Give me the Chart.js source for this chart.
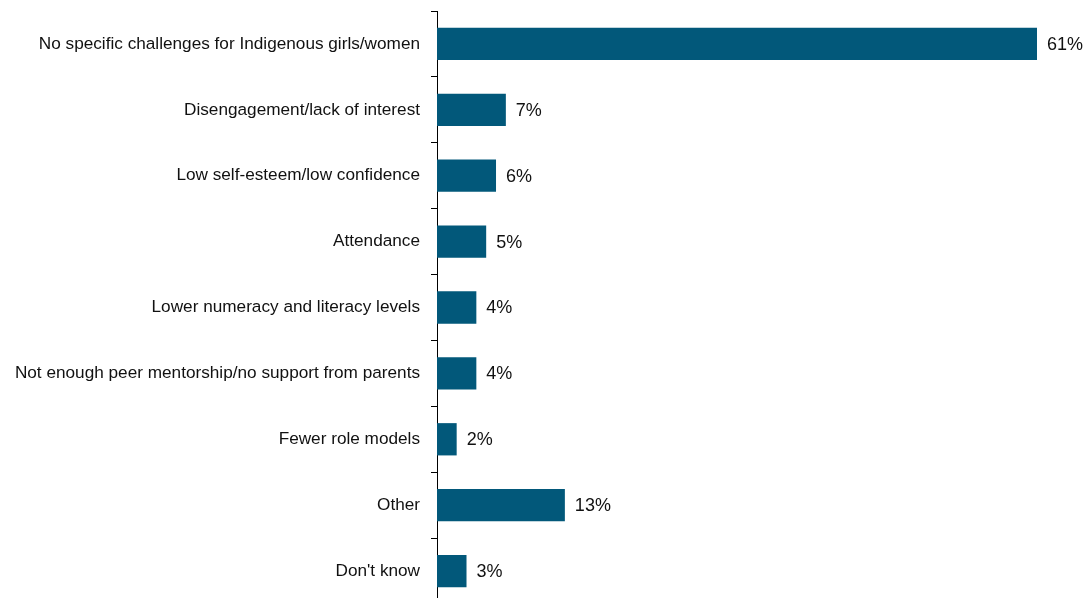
<!DOCTYPE html>
<html>
<head>
<meta charset="utf-8">
<script src="https://cdn.jsdelivr.net/npm/chart.js@4/dist/chart.umd.min.js"></script>
<style>
  body { margin: 0; background: #fff; overflow: hidden; }
  #wrap { width: 1088px; height: 598px; overflow: hidden; }
  #myBarChart { display: block; }
</style>
</head>
<body>
<div id="wrap"><canvas id="myBarChart" width="1088" height="604"></canvas></div>
<script>
var categories = [
  "No specific challenges for Indigenous girls/women",
  "Disengagement/lack of interest",
  "Low self-esteem/low confidence",
  "Attendance",
  "Lower numeracy and literacy levels",
  "Not enough peer mentorship/no support from parents",
  "Fewer role models",
  "Other",
  "Don't know"
];
var percents = [61, 7, 6, 5, 4, 4, 2, 13, 3];

// value labels to the right of each bar
var valueLabels = {
  id: 'valueLabels',
  afterDatasetsDraw: function(chart) {
    var ctx = chart.ctx;
    var meta = chart.getDatasetMeta(0);
    ctx.save();
    ctx.font = '18px "Liberation Sans", Arial, sans-serif';
    ctx.fillStyle = '#111';
    ctx.textAlign = 'left';
    ctx.textBaseline = 'middle';
    meta.data.forEach(function(bar, i) {
      ctx.fillText(percents[i] + '%', bar.x + 10, bar.y + 1);
    });
    ctx.restore();
  }
};

var ctx = document.getElementById('myBarChart');
var barChart = new Chart(ctx, {
  type: 'bar',
  data: {
    labels: categories,
    datasets: [{
      data: percents,
      backgroundColor: '#02587a',
      borderWidth: 0,
      categoryPercentage: 1,
      barPercentage: 0.49
    }]
  },
  options: {
    indexAxis: 'y',
    responsive: false,
    animation: false,
    layout: { padding: { top: 11, right: 51, bottom: 0, left: 0 } },
    plugins: {
      legend: { display: false },
      tooltip: { enabled: false }
    },
    scales: {
      x: {
        display: false,
        min: 0,
        max: 61
      },
      y: {
        afterFit: function(scale) {
          scale.width = 437;
          scale.paddingTop = 0;
          scale.paddingBottom = 0;
        },
        grid: {
          display: true,
          drawOnChartArea: false,
          drawTicks: true,
          tickLength: 6,
          color: '#000',
          offset: true
        },
        border: { display: true, color: '#000', width: 1 },
        ticks: {
          padding: 11,
          color: '#111',
          font: { family: '"Liberation Sans", Arial, sans-serif', size: 17.2 }
        }
      }
    }
  },
  plugins: [valueLabels]
});
</script>
</body>
</html>
